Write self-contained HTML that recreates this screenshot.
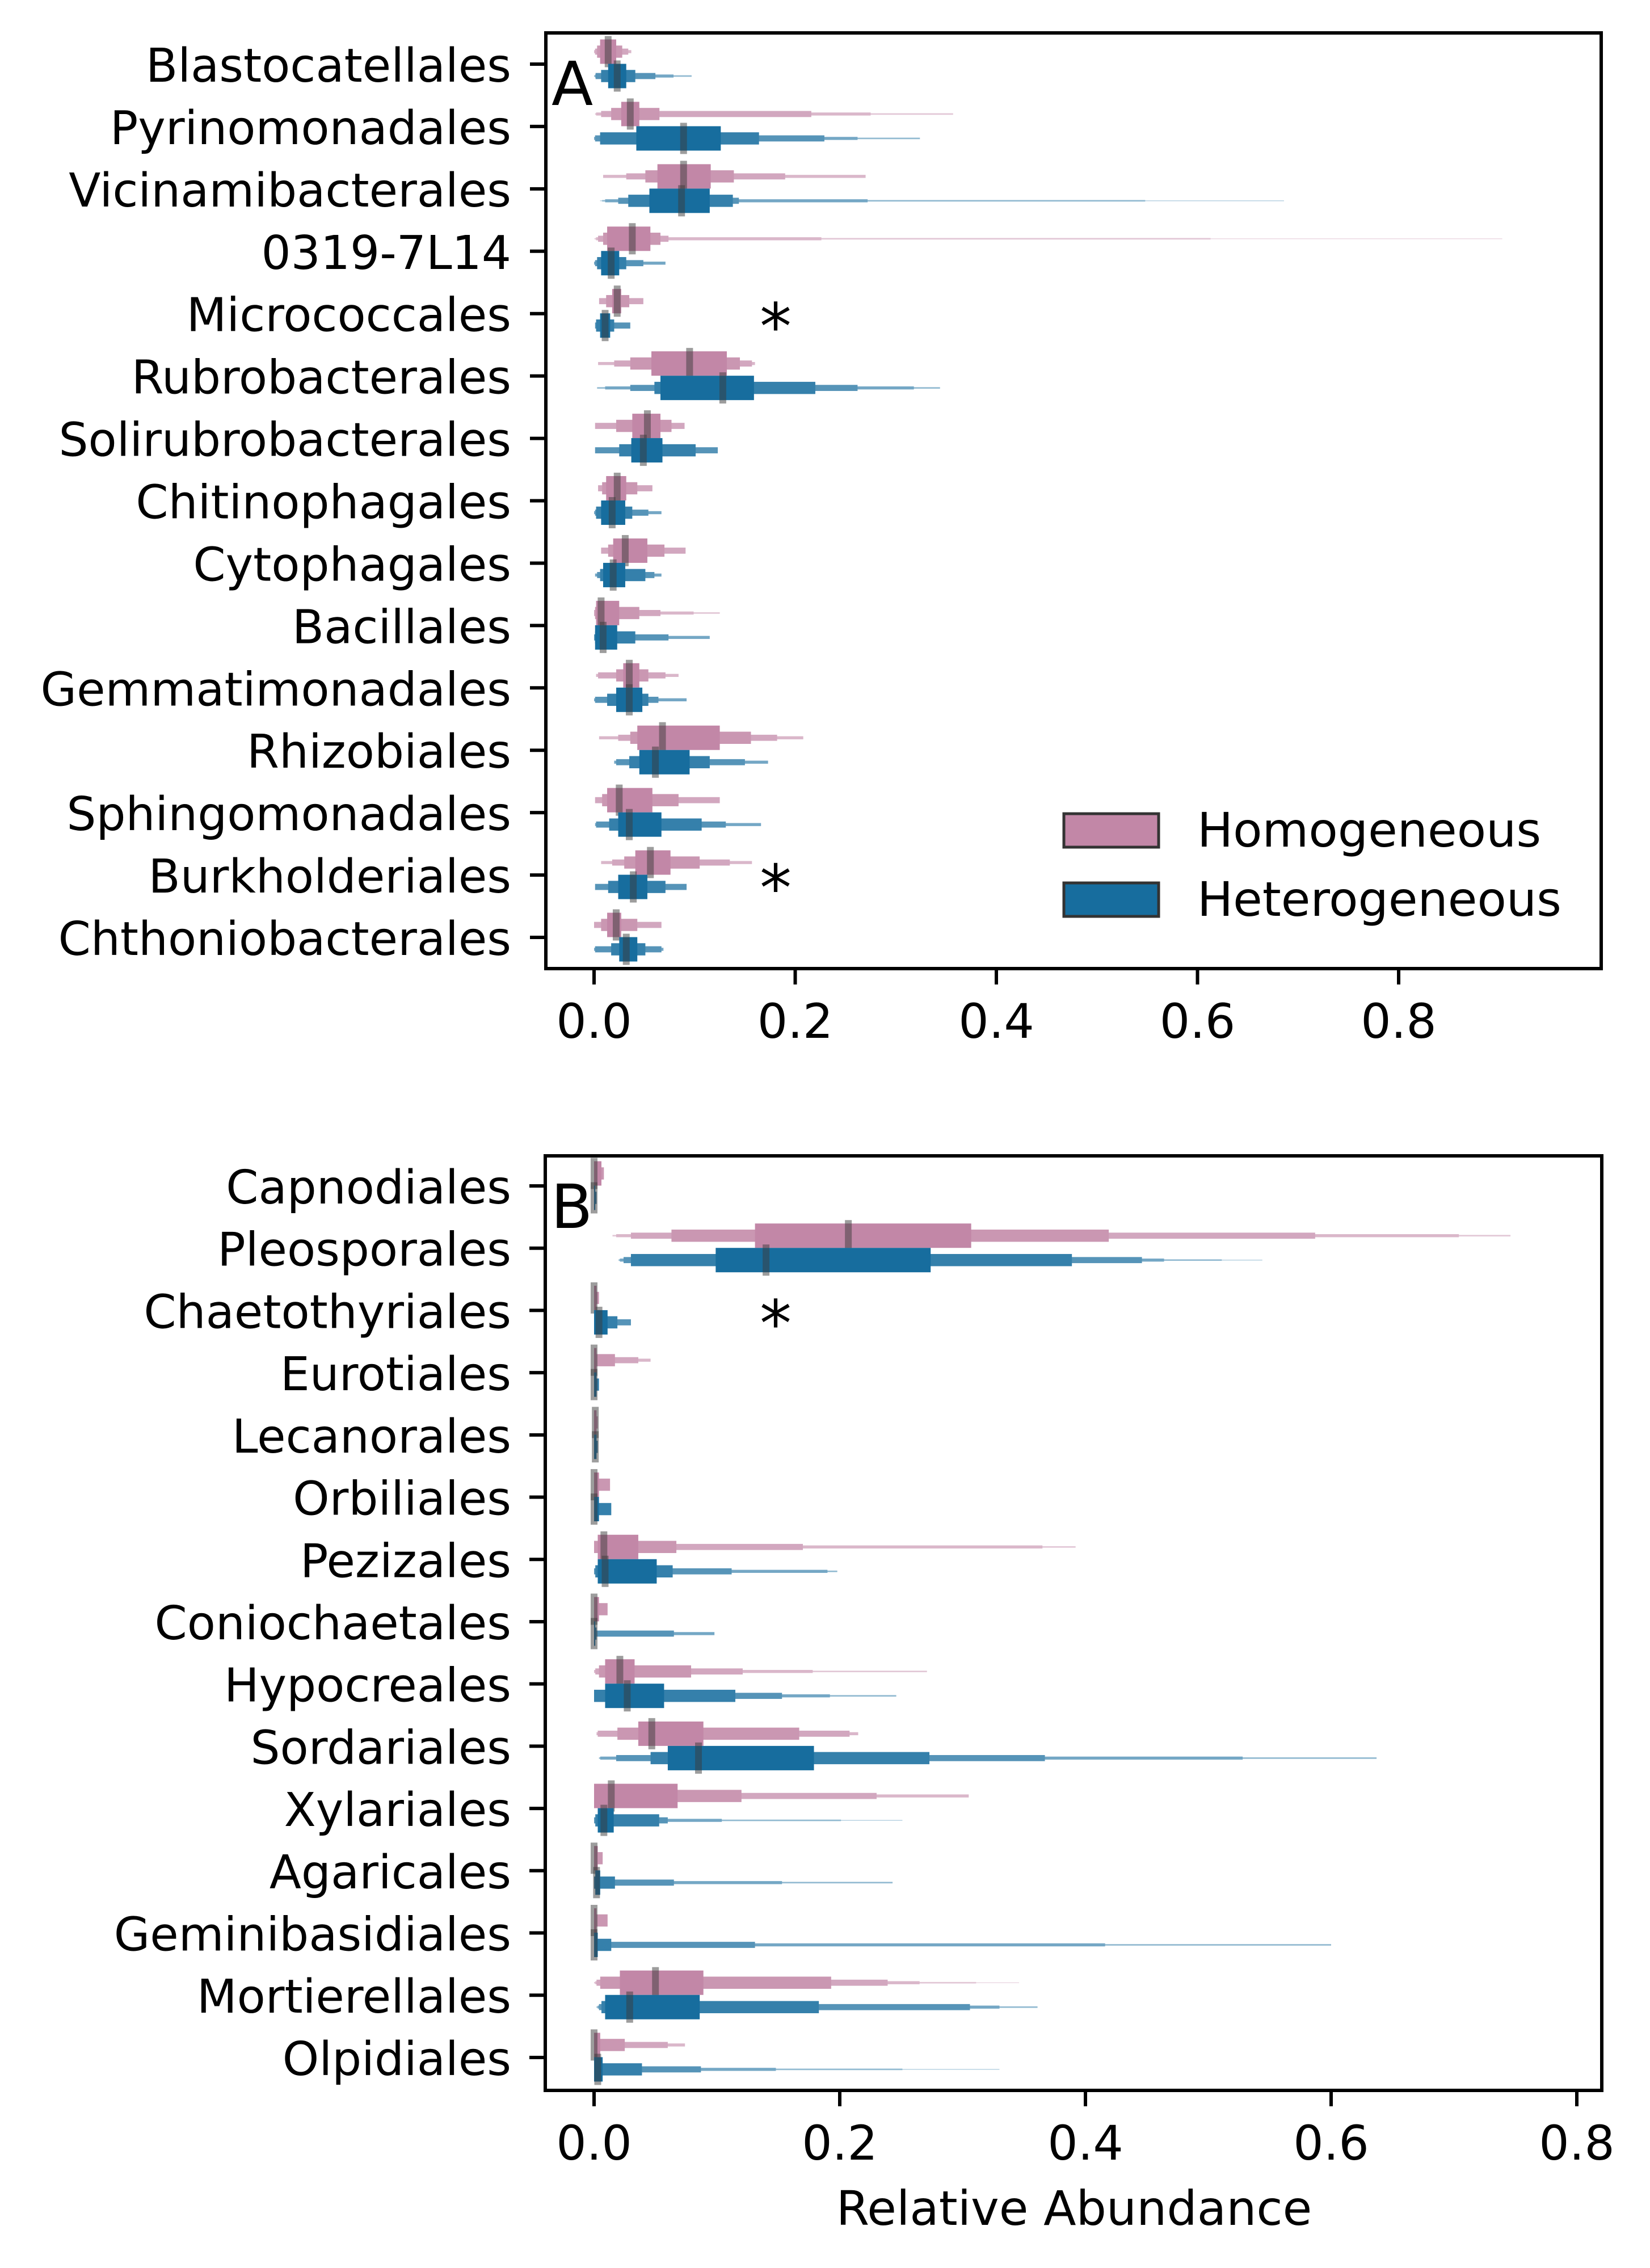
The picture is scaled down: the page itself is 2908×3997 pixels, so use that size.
<!DOCTYPE html>
<html><head><meta charset="utf-8"><style>
html,body{margin:0;padding:0;background:#fff}
svg{display:block}
text{font-family:"DejaVu Sans","Liberation Sans",sans-serif;fill:#000}
</style></head><body>
<svg id="chart" width="2908" height="3997" viewBox="0 0 2908 3997" xmlns="http://www.w3.org/2000/svg"></svg>
<script>
// ---------- Panel A data (bacteria) ----------
const catsA = ["Blastocatellales","Pyrinomonadales","Vicinamibacterales","0319-7L14","Micrococcales","Rubrobacterales","Solirubrobacterales","Chitinophagales","Cytophagales","Bacillales","Gemmatimonadales","Rhizobiales","Sphingomonadales","Burkholderiales","Chthoniobacterales"];
const homMedA = [0.014,0.036,0.089,0.038,0.023,0.095,0.053,0.023,0.031,0.007,0.035,0.068,0.025,0.056,0.022];
const hetMedA = [0.023,0.089,0.087,0.017,0.011,0.128,0.049,0.018,0.019,0.009,0.035,0.061,0.035,0.039,0.032];
const homLevA = [
 [[0.006,0.022],[0.003,0.028],[0.001,0.034],[0,0.037]],
 [[0.027,0.045],[0.017,0.065],[0.007,0.216],[0.002,0.275],[0.001,0.357]],
 [[0.063,0.116],[0.051,0.139],[0.032,0.19],[0.009,0.27]],
 [[0.013,0.056],[0.009,0.066],[0.004,0.074],[0.002,0.226],[0.001,0.613],[0,0.903]],
 [[0.018,0.027],[0.012,0.035],[0.005,0.049]],
 [[0.057,0.132],[0.036,0.145],[0.02,0.157],[0.004,0.16]],
 [[0.038,0.066],[0.022,0.077],[0.001,0.09]],
 [[0.012,0.032],[0.008,0.043],[0.004,0.058]],
 [[0.019,0.053],[0.014,0.07],[0.007,0.091]],
 [[0.002,0.025],[0.001,0.045],[0,0.066],[0,0.099],[0,0.125]],
 [[0.029,0.045],[0.022,0.054],[0.004,0.071],[0.002,0.084]],
 [[0.043,0.125],[0.036,0.156],[0.024,0.182],[0.005,0.208]],
 [[0.013,0.058],[0.008,0.084],[0.001,0.125]],
 [[0.041,0.076],[0.03,0.105],[0.018,0.135],[0.007,0.157]],
 [[0.013,0.027],[0.007,0.043],[0,0.067]]
];
const hetLevA = [
 [[0.014,0.032],[0.007,0.041],[0.0015,0.061],[0.001,0.079],[0,0.097]],
 [[0.042,0.126],[0.006,0.164],[0.001,0.229],[0,0.262],[0,0.324]],
 [[0.055,0.115],[0.034,0.138],[0.024,0.144],[0.011,0.272],[0.008,0.548],[0.006,0.686]],
 [[0.007,0.025],[0.003,0.032],[0.001,0.049],[0,0.071]],
 [[0.006,0.016],[0.002,0.02],[0.001,0.036]],
 [[0.066,0.159],[0.06,0.22],[0.036,0.262],[0.011,0.318],[0.003,0.344]],
 [[0.037,0.068],[0.025,0.101],[0.001,0.123]],
 [[0.007,0.031],[0.002,0.038],[0.001,0.054],[0,0.067]],
 [[0.009,0.031],[0.006,0.051],[0.003,0.06],[0.001,0.067]],
 [[0.001,0.023],[0.001,0.041],[0,0.074],[0,0.115]],
 [[0.022,0.048],[0.013,0.054],[0.001,0.064],[0,0.092]],
 [[0.045,0.095],[0.035,0.115],[0.022,0.15],[0.02,0.173]],
 [[0.024,0.067],[0.015,0.107],[0.002,0.131],[0.001,0.166]],
 [[0.024,0.053],[0.014,0.071],[0.001,0.092]],
 [[0.025,0.043],[0.017,0.051],[0.001,0.067],[0,0.069]]
];
// ---------- Panel B data (fungi) ----------
const catsB = ["Capnodiales","Pleosporales","Chaetothyriales","Eurotiales","Lecanorales","Orbiliales","Pezizales","Coniochaetales","Hypocreales","Sordariales","Xylariales","Agaricales","Geminibasidiales","Mortierellales","Olpidiales"];
const homMedB = [0.0,0.207,0.0,0.0,0.001,0.0,0.008,0.0,0.021,0.047,0.014,0.0,0.0,0.05,0.0];
const hetMedB = [0.0,0.14,0.004,0.0,0.001,0.0,0.009,0.0,0.027,0.085,0.008,0.002,0.0,0.029,0.003];
const homLevB = [
 [[0,0.006],[0,0.008]],
 [[0.131,0.307],[0.063,0.419],[0.03,0.587],[0.018,0.704],[0.015,0.746]],
 [[0,0.002],[0,0.004]],
 [[0,0.002],[0,0.017],[0,0.036],[0,0.046]],
 [[0,0.002],[0,0.003]],
 [[0,0.004],[0,0.013]],
 [[0.003,0.036],[0,0.067],[0,0.17],[0,0.365],[0,0.392]],
 [[0,0.004],[0,0.011]],
 [[0.009,0.033],[0.004,0.079],[0.001,0.121],[0,0.178],[0,0.271]],
 [[0.036,0.089],[0.019,0.167],[0.003,0.208],[0.002,0.215]],
 [[0,0.068],[0,0.12],[0,0.23],[0,0.305]],
 [[0,0.003],[0,0.007]],
 [[0,0.002],[0,0.011]],
 [[0.021,0.089],[0.005,0.193],[0.002,0.239],[0.001,0.265],[0,0.311],[0,0.346]],
 [[0,0.005],[0,0.025],[0,0.06],[0,0.074]]
];
const hetLevB = [
 [[0,0.001],[0,0.002]],
 [[0.099,0.274],[0.03,0.389],[0.024,0.446],[0.021,0.464],[0.02,0.511],[0.02,0.544]],
 [[0,0.011],[0,0.019],[0,0.03]],
 [[0,0.002],[0,0.004]],
 [[0,0.002],[0,0.003]],
 [[0,0.004],[0,0.014]],
 [[0.003,0.051],[0.001,0.064],[0,0.112],[0,0.19],[0,0.198]],
 [[0,0.001],[0,0.002],[0,0.065],[0,0.098]],
 [[0.009,0.057],[0,0.115],[0,0.153],[0,0.192],[0,0.246]],
 [[0.06,0.179],[0.046,0.273],[0.018,0.367],[0.005,0.528],[0.004,0.637]],
 [[0.003,0.016],[0.001,0.053],[0,0.06],[0,0.104],[0,0.201],[0,0.251]],
 [[0.001,0.005],[0,0.017],[0,0.065],[0,0.153],[0,0.243]],
 [[0,0.003],[0,0.014],[0,0.131],[0,0.416],[0,0.6]],
 [[0.009,0.086],[0.006,0.183],[0.004,0.306],[0.003,0.33],[0.002,0.361]],
 [[0,0.007],[0,0.039],[0,0.087],[0,0.148],[0,0.251],[0,0.33]]
];
const xTicksA = [0.0,0.2,0.4,0.6,0.8];
const xTicksB = [0.0,0.2,0.4,0.6,0.8];
const tickLabelsA = ["0.0","0.2","0.4","0.6","0.8"];
const tickLabelsB = ["0.0","0.2","0.4","0.6","0.8"];
const starsA = ["Micrococcales","Burkholderiales"];
const starsB = ["Chaetothyriales"];

const NS = "http://www.w3.org/2000/svg";
const svg = document.getElementById('chart');
const PINK = [194,135,167], BLUE = [23,109,158];
const LIGHT = [0,0.13,0.27,0.4,0.53,0.66,0.8];
function mix(c,t){return 'rgb('+c.map(v=>Math.round(v+(255-v)*t)).join(',')+')';}
function el(tag, attrs, parent){const e=document.createElementNS(NS,tag);for(const k in attrs)e.setAttribute(k,attrs[k]);(parent||svg).appendChild(e);return e;}

function panel(cfg){
  const g = el('g',{});
  
  
  const xs = v => cfg.x0 + v*cfg.ppu;
  const ys = i => cfg.y0 + i*cfg.dy;
  function series(levels, med, cy, col, nm){
    const sg = el('g',{},g);
    
    
    for(let k=levels.length-1;k>=0;k--){
      const h = 43/Math.pow(2,k);
      const r = el('rect',{x:xs(levels[k][0]),y:cy-h/2,width:Math.max(1,xs(levels[k][1])-xs(levels[k][0])),height:h,fill:mix(col,LIGHT[Math.min(k,LIGHT.length-1)])},sg);
      
      
    }
    const m = el('rect',{x:xs(med)-6,y:cy-27.5,width:12,height:55,fill:'rgba(60,60,60,0.5)'},sg);
    
    
  }
  cfg.cats.forEach((c,i)=>{
    const cy = ys(i);
    series(cfg.hom[i], cfg.homMed[i], cy-22, PINK, 'homogeneous-'+c.toLowerCase());
    series(cfg.het[i], cfg.hetMed[i], cy+21, BLUE, 'heterogeneous-'+c.toLowerCase());
    const t = el('line',{x1:cfg.left-28,x2:cfg.left,y1:cy,y2:cy,stroke:'#000','stroke-width':6},g);
    
    
    const lb = el('text',{x:901,y:cy+31,'text-anchor':'end','font-size':82},g);
    lb.textContent = c;
    
    
    if(cfg.stars.includes(c)){
      const s = el('text',{x:1367,y:cy+62,'text-anchor':'middle','font-size':112},g);
      s.textContent='*';
      
      
    }
  });
  cfg.ticks.forEach((v,i)=>{
    const x = xs(v);
    const t = el('line',{x1:x,x2:x,y1:cfg.bottom,y2:cfg.bottom+28,stroke:'#000','stroke-width':6},g);
    
    
    const lb = el('text',{x:x,y:cfg.bottom+122,'text-anchor':'middle','font-size':84},g);
    lb.textContent = cfg.tickLabels[i];
    
    
  });
  const fr = el('rect',{x:cfg.left,y:cfg.top,width:cfg.right-cfg.left,height:cfg.bottom-cfg.top,fill:'none',stroke:'#000','stroke-width':6},g);
  
  
  const pl = el('text',{x:cfg.left+10,y:cfg.top+127,'font-size':107},g);
  pl.textContent = cfg.letter;
  
  
}

panel({name:'panel-a-bacteria',letter:'A',cats:catsA,homMed:homMedA,hetMed:hetMedA,hom:homLevA,het:hetLevA,
  x0:1047,ppu:1772.5,y0:113,dy:109.93,left:962,right:2822,top:58,bottom:1707,ticks:xTicksA,tickLabels:tickLabelsA,stars:starsA});
panel({name:'panel-b-fungi',letter:'B',cats:catsB,homMed:homMedB,hetMed:hetMedB,hom:homLevB,het:hetLevB,
  x0:1047,ppu:2165,y0:2090,dy:109.71,left:961,right:2823,top:2037,bottom:3684,ticks:xTicksB,tickLabels:tickLabelsB,stars:starsB});

// legend
const lg = el('g',{});


[['Homogeneous',PINK,1434],['Heterogeneous',BLUE,1556]].forEach(([t,c,y])=>{
  const r = el('rect',{x:1875,y:y,width:167,height:59,fill:mix(c,0),stroke:'#333','stroke-width':5},lg);
  
  
  const tx = el('text',{x:2110,y:y+58,'font-size':84},lg);
  tx.textContent = t;
  
  
});
const xl = el('text',{x:1893,y:3921,'text-anchor':'middle','font-size':84});
xl.textContent = 'Relative Abundance';


</script>
</body></html>
